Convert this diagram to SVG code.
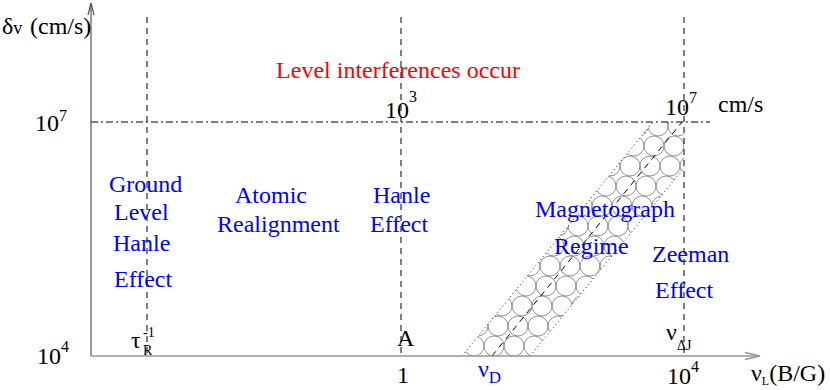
<svg xmlns="http://www.w3.org/2000/svg" width="830" height="390" viewBox="0 0 830 390" font-family="'Liberation Serif', 'DejaVu Serif', serif">
<style>
text{font-family:'Liberation Serif','DejaVu Serif',serif;font-size:24px;fill:#000}
.blue{fill:#0000ff}
.red{fill:#ff0000}
.sup{font-size:16px}
.sub{font-size:14px}
.dash{stroke:#000;stroke-width:1;stroke-dasharray:6,5;fill:none}
.dashdot{stroke:#000;stroke-width:1;stroke-dasharray:7,3,2,3;fill:none}
.axis{stroke:#999;stroke-width:1.6;fill:none}
.yaxis{stroke:#555;stroke-width:1.2;fill:none}
.dot{stroke:#222;stroke-width:1;stroke-dasharray:1,3;fill:none}
</style>
<defs>
<pattern id="circ" patternUnits="userSpaceOnUse" x="0" y="356" width="20" height="100">
<g fill="none" stroke="#777" stroke-width="0.8">
<circle cx="10" cy="10" r="10"/><circle cx="-10" cy="10" r="10"/><circle cx="30" cy="10" r="10"/>
<circle cx="6" cy="30" r="10"/><circle cx="26" cy="30" r="10"/><circle cx="-14" cy="30" r="10"/>
<circle cx="2" cy="50" r="10"/><circle cx="22" cy="50" r="10"/><circle cx="-18" cy="50" r="10"/>
<circle cx="18" cy="70" r="10"/><circle cx="-2" cy="70" r="10"/><circle cx="38" cy="70" r="10"/>
<circle cx="14" cy="90" r="10"/><circle cx="-6" cy="90" r="10"/><circle cx="34" cy="90" r="10"/>
<circle cx="10" cy="110" r="10"/><circle cx="-10" cy="110" r="10"/><circle cx="30" cy="110" r="10"/>
<circle cx="18" cy="-30" r="10"/><circle cx="14" cy="-10" r="10"/><circle cx="-6" cy="-10" r="10"/>
</g>
</pattern>
<clipPath id="bandclip"><polygon points="462,356 530,356 684,168 684,122 653,122"/></clipPath>
</defs>
<rect width="830" height="390" fill="#fff"/>

<g id="band">
<rect x="450" y="115" width="240" height="245" fill="url(#circ)" clip-path="url(#bandclip)"/>
<line class="dot" x1="462" y1="356" x2="653" y2="122"/>
<line class="dot" x1="530" y1="356" x2="684" y2="168"/>
</g>

<g id="connectors">
<line class="dash" x1="147" y1="17" x2="147" y2="356"/>
<line class="dash" x1="401" y1="17" x2="401" y2="356"/>
<line class="dash" x1="684" y1="17" x2="684" y2="356"/>
<line class="dashdot" x1="91" y1="122" x2="710" y2="122"/>
<line class="dash" x1="492" y1="356" x2="682" y2="122" stroke-dasharray="6,6"/>
<line class="yaxis" x1="91" y1="356" x2="91" y2="3"/>
<polyline class="yaxis" points="88,15 91,3 94,15"/>
<line class="axis" x1="91" y1="356" x2="760" y2="356"/>
<polyline class="axis" points="745,352.5 760,356 745,359.5"/>
</g>

<g id="axis-labels">
<text x="2" y="34">δ<tspan font-size="18">v</tspan><tspan x="30">(cm/s)</tspan></text>
<text x="35" y="131">10<tspan class="sup" dy="-10">7</tspan></text>
<text x="37" y="364">10<tspan class="sup" dy="-12">4</tspan></text>
<text x="385" y="118">10<tspan class="sup" dy="-16">3</tspan></text>
<text x="665" y="115">10<tspan class="sup" dy="-12">7</tspan></text>
<text x="718" y="112">cm/s</text>
<text x="131" y="348">τ<tspan class="sub" x="143" y="355">R</tspan><tspan class="sub" x="143" y="337">-1</tspan></text>
<text x="397" y="346">A</text>
<text x="397" y="383">1</text>
<text class="blue" x="478" y="377">ν<tspan font-size="17" dy="6">D</tspan></text>
<text x="666" y="340">ν<tspan class="sub" x="677" y="350">ΔJ</tspan></text>
<text x="667" y="384">10<tspan class="sup" dy="-12">4</tspan></text>
<text x="751" y="381">ν<tspan font-size="12" dy="4">L</tspan><tspan dy="-4">(B/G)</tspan></text>
</g>

<g id="level-interferences">
<text class="red" x="398" y="78" text-anchor="middle">Level interferences occur</text>
</g>
<g id="ground-level-hanle">
<text class="blue" x="109" y="192">Ground</text>
<text class="blue" x="114" y="220">Level</text>
<text class="blue" x="113" y="251">Hanle</text>
<text class="blue" x="114" y="287">Effect</text>
</g>
<g id="atomic-realignment">
<text class="blue" x="235" y="203">Atomic</text>
<text class="blue" x="217" y="232">Realignment</text>
</g>
<g id="hanle-effect">
<text class="blue" x="373" y="203">Hanle</text>
<text class="blue" x="370" y="232">Effect</text>
</g>
<g id="magnetograph">
<text class="blue" x="535" y="217">Magnetograph</text>
<text class="blue" x="554" y="254">Regime</text>
</g>
<g id="zeeman">
<text class="blue" x="652" y="262">Zeeman</text>
<text class="blue" x="655" y="298">Effect</text>
</g>
</svg>
